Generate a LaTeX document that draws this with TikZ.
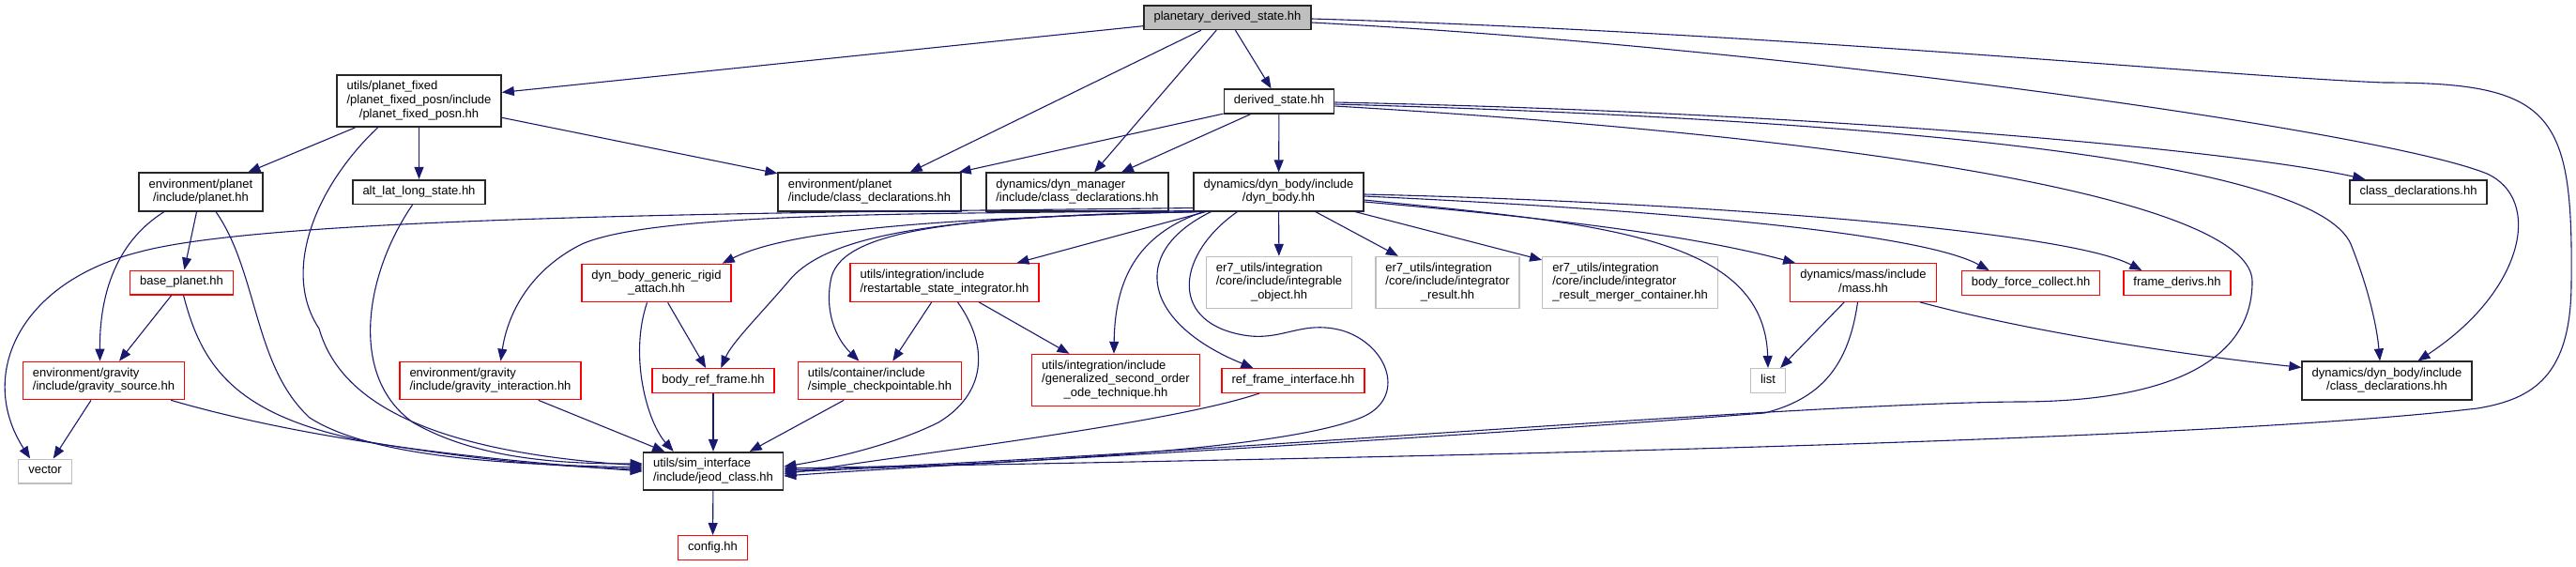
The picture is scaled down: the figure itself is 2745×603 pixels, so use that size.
\documentclass[tikz,border=0pt]{standalone}
\usepackage{fontspec}
\setmainfont{Liberation Sans}
\usetikzlibrary{arrows.meta}
\definecolor{edgeblue}{HTML}{191970}
\definecolor{boxgray}{HTML}{BFBFBF}
\newcommand{\lone}[1]{\begin{tabular}{@{}c@{}}#1\end{tabular}}
\newcommand{\ltwo}[2]{\begin{tabular}{@{}l@{}}#1\\\multicolumn{1}{@{}c@{}}{#2}\end{tabular}}
\newcommand{\lthree}[3]{\begin{tabular}{@{}l@{}}#1\\#2\\\multicolumn{1}{@{}c@{}}{#3}\end{tabular}}

\begin{document}
\begin{tikzpicture}[x=1pt,y=-1pt,line width=1pt,>={Triangle[length=13pt,width=10pt]},
  file/.style={inner xsep=10.5pt,inner ysep=5.5pt,font=\fontsize{13}{14.7}\selectfont},
  fblack/.style={file,draw=black!85,line width=1.7pt},
  fred/.style={file,draw=red,line width=1.3pt},
  fgray/.style={file,draw=boxgray,line width=1.3pt},
  ftop/.style={fblack,fill=boxgray},
  dep/.style={->,draw=edgeblue,line width=1.1pt}]
  \useasboundingbox (0,0) rectangle (2745,603);
  % fila 0-1
  \node[ftop] (pds) at (1308,18.5) {\lone{planetary\_derived\_state.hh}};
  \node[fblack] (pfp) at (446.5,107.5) {\lthree{utils/planet\_fixed}{/planet\_fixed\_posn/include}{/planet\_fixed\_posn.hh}};
  \node[fblack] (ds) at (1363,108) {\lone{derived\_state.hh}};
  % fila 2
  \node[fblack] (planet) at (214,204.5) {\ltwo{environment/planet}{/include/planet.hh}};
  \node[fblack] (alt) at (446.5,204.5) {\lone{alt\_lat\_long\_state.hh}};
  \node[fblack] (epcd) at (926.5,204.5) {\ltwo{environment/planet}{/include/class\_declarations.hh}};
  \node[fblack] (dmcd) at (1148,204.5) {\ltwo{dynamics/dyn\_manager}{/include/class\_declarations.hh}};
  \node[fblack] (db) at (1362.5,204.5) {\ltwo{dynamics/dyn\_body/include}{/dyn\_body.hh}};
  \node[fblack] (cd) at (2577,204.5) {\lone{class\_declarations.hh}};
  % fila 3
  \node[fred] (base) at (193.5,301) {\lone{base\_planet.hh}};
  \node[fred] (rigid) at (699.5,301.5) {\ltwo{dyn\_body\_generic\_rigid}{\_attach.hh}};
  \node[fred] (rsi) at (1006.5,301) {\ltwo{utils/integration/include}{/restartable\_state\_integrator.hh}};
  \node[fgray] (eio) at (1363,301) {\lthree{er7\_utils/integration}{/core/include/integrable}{\_object.hh}};
  \node[fgray] (eir) at (1542.5,301) {\lthree{er7\_utils/integration}{/core/include/integrator}{\_result.hh}};
  \node[fgray] (eirm) at (1737,301) {\lthree{er7\_utils/integration}{/core/include/integrator}{\_result\_merger\_container.hh}};
  \node[fred] (mass) at (1985.5,301) {\ltwo{dynamics/mass/include}{/mass.hh}};
  \node[fred] (bfc) at (2164,301.5) {\lone{body\_force\_collect.hh}};
  \node[fred] (fd) at (2320,301.5) {\lone{frame\_derivs.hh}};
  % fila 4
  \node[fred] (gs) at (110.5,405.5) {\ltwo{environment/gravity}{/include/gravity\_source.hh}};
  \node[fred] (gi) at (522.5,405.5) {\ltwo{environment/gravity}{/include/gravity\_interaction.hh}};
  \node[fred] (brf) at (760,405.5) {\lone{body\_ref\_frame.hh}};
  \node[fred] (sc) at (937.5,405.5) {\ltwo{utils/container/include}{/simple\_checkpointable.hh}};
  \node[fred] (gso) at (1189,405) {\lthree{utils/integration/include}{/generalized\_second\_order}{\_ode\_technique.hh}};
  \node[fred] (rfi) at (1378,405.5) {\lone{ref\_frame\_interface.hh}};
  \node[fgray] (list) at (1884,405.5) {\lone{list}};
  \node[fblack] (dbcd) at (2543.5,405.5) {\ltwo{dynamics/dyn\_body/include}{/class\_declarations.hh}};
  % fila 5-6
  \node[fgray] (vector) at (48,502) {\lone{vector}};
  \node[fblack] (jc) at (760,502) {\ltwo{utils/sim\_interface}{/include/jeod\_class.hh}};
  \node[fred] (config) at (759.5,583.5) {\lone{config.hh}};

  % planetary_derived_state
  \draw[dep] (pds) -- (pfp);
  \draw[dep] (pds) -- (epcd);
  \draw[dep] (pds) -- (dmcd);
  \draw[dep] (pds) -- (ds);
  \draw[dep] ([yshift=-5.5pt]pds.east) .. controls (1900,50) and (2540,140) .. (2650,185)
    .. controls (2710,212) and (2690,310) .. ([xshift=33pt]dbcd.north);
  \draw[dep] ([yshift=-1.5pt]pds.east) .. controls (1900,35) and (2350,80) .. (2540,88)
    .. controls (2720,88) and (2742,120) .. (2740,300)
    .. controls (2740,400) and (2700,425) .. (2640,435)
    .. controls (2300,475) and (1300,490) .. ([yshift=3pt]jc.east);
  % derived_state
  \draw[dep] (ds) -- (epcd);
  \draw[dep] (ds) -- (dmcd);
  \draw[dep] (ds) -- (db);
  \draw[dep] ([yshift=-1pt]ds.east) .. controls (1950,120) and (2380,160) .. ([xshift=17pt]cd.north west);
  \draw[dep] ([yshift=-3pt]ds.east) .. controls (2100,130) and (2470,180) .. (2505,260)
    .. controls (2525,310) and (2533,350) .. ([xshift=-7.5pt]dbcd.north);
  \draw[dep] ([yshift=-5pt]ds.east) .. controls (2050,150) and (2400,220) .. (2400,300)
    .. controls (2400,380) and (2320,428) .. (2150,428)
    .. controls (1900,430) and (1200,490) .. ([yshift=1pt]jc.east);
  % dyn_body
  \draw[dep] (db) -- (rsi);
  \draw[dep] (db) -- (eio);
  \draw[dep] (db) -- (eir);
  \draw[dep] (db) -- (eirm);
  \draw[dep] ([yshift=-2.5pt]db.east) .. controls (1800,215) and (2200,245) .. ([xshift=20pt]fd.north west);
  \draw[dep] ([yshift=-4.5pt]db.east) .. controls (1800,225) and (2050,250) .. ([xshift=30pt]bfc.north west);
  \draw[dep] ([yshift=-8.5pt]db.east) .. controls (1700,238) and (1880,250) .. (list.north);
  \draw[dep] ([yshift=-10.5pt]db.east) .. controls (1650,232) and (1800,250) .. ([xshift=6pt]mass.north west);
  \draw[dep] ([xshift=-80pt]db.south) .. controls (1210,250) and (1188,300) .. ([xshift=-2pt]gso.north);
  \draw[dep] ([xshift=-72pt]db.south) .. controls (1200,270) and (1220,345) .. ([xshift=34pt]rfi.north west);
  \draw[dep] ([xshift=-44pt]db.south) .. controls (1255,270) and (1245,340) .. (1320,356)
    .. controls (1365,366) and (1385,340) .. (1430,352)
    .. controls (1480,367) and (1500,425) .. (1450,445)
    .. controls (1350,485) and (1000,495) .. ([yshift=-1pt]jc.east);
  \draw[dep] ([xshift=10pt]db.south west) .. controls (1020,230) and (900,245) .. (886,295)
    .. controls (878,330) and (890,360) .. ([xshift=-22pt]sc.north);
  \draw[dep] ([xshift=7pt]db.south west) .. controls (1000,230) and (880,250) .. (840,300)
    .. controls (810,335) and (780,365) .. ([xshift=74pt]brf.north west);
  \draw[dep] ([xshift=4pt]db.south west) .. controls (1050,232) and (850,240) .. ([xshift=-10pt]rigid.north east);
  \draw[dep] ([yshift=1pt]db.south west) .. controls (1000,228) and (700,225) .. (620,260)
    .. controls (560,290) and (540,340) .. ([xshift=11pt]gi.north);
  \draw[dep] ([yshift=4pt]db.south west) .. controls (900,226) and (300,228) .. (150,268)
    .. controls (20,300) and (-25,400) .. ([xshift=13pt]vector.north west);
  % planet_fixed_posn
  \draw[dep] (pfp) -- (planet);
  \draw[dep] (pfp) -- (alt);
  \draw[dep] (pfp) -- (epcd);
  \draw[dep] ([xshift=-44pt]pfp.south) .. controls (335,200) and (300,290) .. (340,350)
    .. controls (360,420) and (440,480) .. ([yshift=6pt]jc.west);
  % planet, base_planet, gravity_source
  \draw[dep] (planet) -- (base);
  \draw[dep] ([xshift=-39pt]planet.south) .. controls (120,260) and (106,320) .. ([xshift=-4pt]gs.north);
  \draw[dep] ([xshift=16pt]planet.south) .. controls (275,290) and (270,390) .. (330,445)
    .. controls (400,490) and (560,495) .. ([yshift=4pt]jc.west);
  \draw[dep] (base) -- (gs);
  \draw[dep] ([xshift=2pt]base.south) .. controls (215,390) and (250,445) .. (400,472)
    .. controls (520,492) and (600,497) .. ([yshift=2pt]jc.west);
  \draw[dep] (gs) -- (vector);
  \draw[dep] ([xshift=-15pt]gs.south east) .. controls (350,475) and (550,492) .. (jc.west);
  \draw[dep] ([xshift=-7pt]alt.south) .. controls (390,290) and (370,400) .. (440,450)
    .. controls (510,490) and (600,494) .. ([yshift=8pt]jc.west);
  % fila 3-4 hacia jeod_class
  \draw[dep] (gi) -- (jc);
  \draw[dep] (rigid) -- (brf);
  \draw[dep] ([xshift=-10pt]rigid.south) .. controls (670,380) and (690,450) .. ([xshift=33pt]jc.north west);
  \draw[dep] (brf) -- (jc);
  \draw[dep] (sc) -- (jc);
  \draw[dep] (rsi) -- (sc);
  \draw[dep] (rsi) -- (gso);
  \draw[dep] ([xshift=14pt]rsi.south) .. controls (1055,370) and (1050,420) .. (1000,450)
    .. controls (950,475) and (880,490) .. ([yshift=5pt]jc.east);
  \draw[dep] ([xshift=-36pt]rfi.south) .. controls (1250,450) and (1000,480) .. ([yshift=-3pt]jc.east);
  % mass
  \draw[dep] (mass) -- (list);
  \draw[dep] ([xshift=-6pt]mass.south) .. controls (1970,390) and (1940,425) .. (1880,440)
    .. controls (1500,470) and (1000,495) .. ([yshift=-5pt]jc.east);
  \draw[dep] ([xshift=-18pt]mass.south east) .. controls (2150,350) and (2300,375) .. ([yshift=-7pt]dbcd.north west);
  \draw[dep] (jc) -- (config);
\end{tikzpicture}
\end{document}
